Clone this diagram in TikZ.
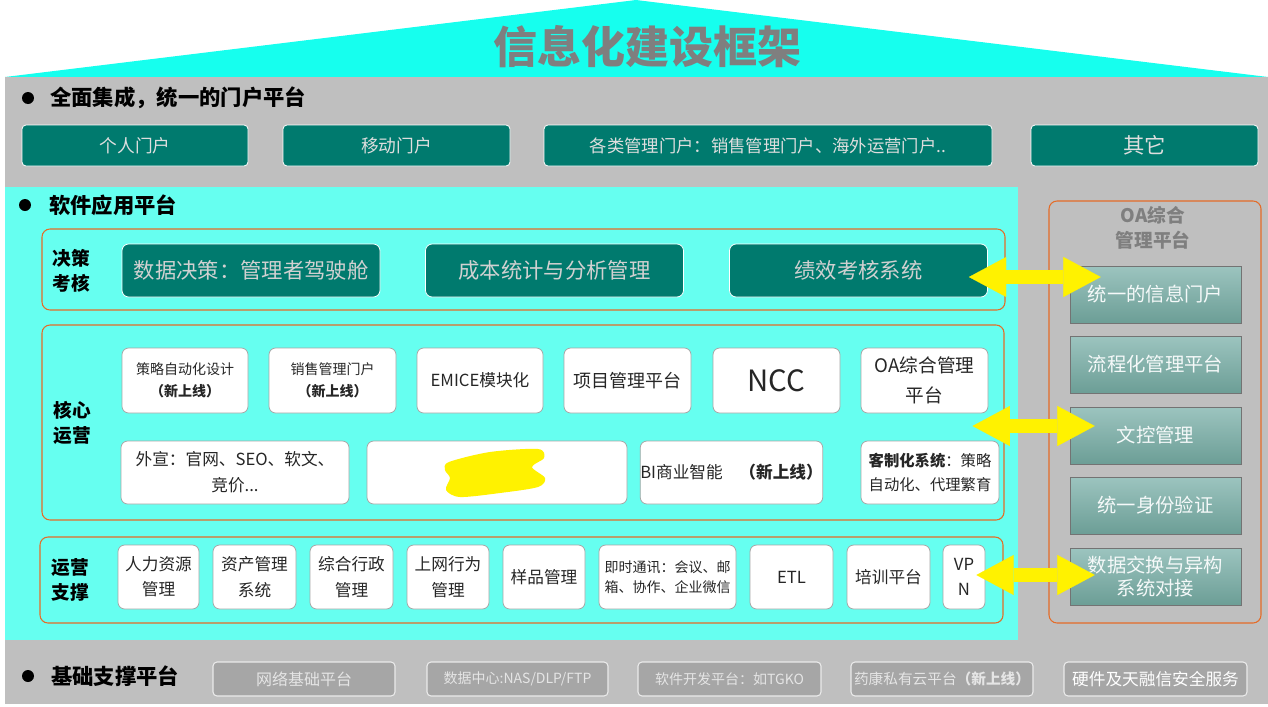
\documentclass[tikz,border=0pt]{standalone}
\usepackage{fontspec}
\setmainfont{Noto Sans CJK SC}
\usetikzlibrary{arrows.meta}
\definecolor{roofcyan}{RGB}{22,255,238}
\definecolor{bggray}{RGB}{191,191,191}
\definecolor{softcyan}{RGB}{102,255,240}
\definecolor{tealbg}{RGB}{0,122,110}
\definecolor{lighttxt}{RGB}{222,222,222}
\definecolor{framered}{RGB}{228,108,40}
\definecolor{oatop}{RGB}{156,196,191}
\definecolor{oabot}{RGB}{108,158,150}
\definecolor{oaline}{RGB}{115,115,115}
\definecolor{basegray}{RGB}{166,166,166}
\definecolor{titlegray}{RGB}{127,127,127}
\tikzset{
	wh/.style 2 args={minimum width=#1*0.75pt, minimum height=#2*0.75pt},
	tealbox/.style={draw=white, fill=tealbg, rounded corners=3pt, text=lighttxt, inner sep=0pt, line width=0.6pt},
	whitebox/.style={draw=black!35, fill=white, rounded corners=5pt, text=black!85, inner sep=0pt, align=center, line width=0.6pt},
	groupframe/.style={draw=framered, rounded corners=6pt, line width=0.8pt, inner sep=0pt},
	oabox/.style={draw=oaline, top color=oatop, bottom color=oabot, text=white!90!oatop, inner sep=0pt, align=center, font=\fontsize{14.5}{17.5}\selectfont},
	basebox/.style={draw=white!92!black, fill=basegray, rounded corners=3pt, text=white!90!black, inner sep=0pt, line width=0.8pt},
	yarrow/.style={draw=yellow, line width=10pt, {Triangle[length=28pt,width=30pt,line width=0.1pt]}-{Triangle[length=28pt,width=30pt,line width=0.1pt]}},
	sectitle/.style={anchor=west, font=\bfseries\fontsize{16}{19}\selectfont, inner sep=0pt},
	grouplabel/.style={font=\bfseries\fontsize{14}{19}\selectfont, align=center, inner sep=0pt}
}
\begin{document}
\begin{tikzpicture}[x=0.75pt,y=-0.75pt]
	\useasboundingbox (0,0) rectangle (1268,707);
	\fill[roofcyan] (5,77) -- (636,0) -- (1268,77) -- cycle;
	\fill[bggray] (5,77) rectangle (1268,704);
	\fill[softcyan] (5,187) rectangle (1018,640);
	\node[font=\bfseries\fontsize{33}{36}\selectfont, text=titlegray] (title) at (647,47) {信息化建设框架};

	\fill (28,98) circle (4.5pt);
	\node[sectitle] (portal) at (50,98) {全面集成，统一的门户平台};
	\fill (25,205) circle (4.5pt);
	\node[sectitle] (software) at (49,205) {软件应用平台};
	\fill (28,676) circle (4.5pt);
	\node[sectitle] (base) at (51,676) {基础支撑平台};

	\node[tealbox, wh={226}{41}, font=\fontsize{13.3}{16}\selectfont] (geren) at (135,145.5) {个人门户};
	\node[tealbox, wh={227}{41}, font=\fontsize{13.3}{16}\selectfont] (yidong) at (396.5,145.5) {移动门户};
	\node[tealbox, wh={448}{41}, font=\fontsize{13}{16}\selectfont] (gelei) at (768,145.5) {各类管理门户：销售管理门户、海外运营门户..};
	\node[tealbox, wh={227}{41}, font=\fontsize{16}{19}\selectfont] (qita) at (1144.5,145.5) {其它};

	\node[groupframe, wh={963}{81}] (juece) at (523.5,269.5) {};
	\node[groupframe, wh={962}{195}] (hexin) at (523,422.5) {};
	\node[groupframe, wh={963}{86}] (yunying) at (521.5,580) {};
	\node[grouplabel] (juecelab) at (71.5,270.5) {决策\\考核};
	\node[grouplabel] (hexinlab) at (72,423) {核心\\运营};
	\node[grouplabel] (yunyinglab) at (70,580) {运营\\支撑};

	\foreach \n/\x/\t in {shuju/251/数据决策：管理者驾驶舱, chengben/554.5/成本统计与分析管理, jixiao/858.5/绩效考核系统}{
		\node[tealbox, wh={258}{53}, rounded corners=5pt, text=black!18, font=\fontsize{16}{19}\selectfont] (\n) at (\x,270.5) {\t};
	}

	\node[whitebox, wh={126}{65}, font=\fontsize{10.5}{16.5}\selectfont] (celue) at (185,380.5) {策略自动化设计\\\textbf{（新上线）}};
	\node[whitebox, wh={127}{65}, font=\fontsize{10.5}{16.5}\selectfont] (xiaoshou) at (332.5,380.5) {销售管理门户\\\textbf{（新上线）}};
	\node[whitebox, wh={126}{65}, font=\fontsize{12.5}{15}\selectfont] (emice) at (480,380.5) {EMICE模块化};
	\node[whitebox, wh={127}{65}, font=\fontsize{13.5}{16}\selectfont] (xiangmu) at (627.5,380.5) {项目管理平台};
	\node[whitebox, wh={127}{65}, font=\fontsize{22}{26}\selectfont] (ncc) at (776.5,380.5) {NCC};
	\node[whitebox, wh={127}{65}, font=\fontsize{14}{22.5}\selectfont] (oa) at (924.5,380.5) {OA综合管理\\平台};

	\node[whitebox, wh={228}{63}, font=\fontsize{12.5}{19.5}\selectfont] (waixuan) at (235,472.5) {外宣：官网、SEO、软文、\\竞价...};
	\node[whitebox, wh={260}{63}] (blank) at (497,472.5) {};
	\fill[yellow] plot[smooth cycle] coordinates {(449,462) (490,452) (538,449) (544,458) (532,467) (545,478) (538,487) (500,493) (460,497) (446,490) (450,478) (445,470)};
	\node[whitebox, wh={181}{63}, font=\fontsize{12.5}{15}\selectfont] (bi) at (731.5,472.5) {BI商业智能\quad\textbf{（新上线）}};
	\node[whitebox, wh={138}{63}, font=\fontsize{11.5}{17.5}\selectfont] (kezhi) at (930,472.5) {\textbf{客制化系统}：策略\\自动化、代理繁育};

	\foreach \n/\x/\w/\t in {renli/158.5/81/{人力资源\\管理}, zichan/254.5/83/{资产管理\\系统}, zonghe/351.5/83/{综合行政\\管理}, shangwang/448/82/{上网行为\\管理}, yangpin/544/82/样品管理, etl/791.5/83/ETL, peixun/888.5/83/培训平台, vpn/964/42/{VP\\N}}{
		\node[whitebox, wh={\w}{64}, font=\fontsize{12.5}{19}\selectfont] (\n) at (\x,577) {\t};
	}
	\node[whitebox, wh={137}{64}, font=\fontsize{10.5}{15}\selectfont] (jishi) at (667.5,577) {即时通讯：会议、邮\\箱、协作、企业微信};

	\node[groupframe, wh={212}{422}] (oapanel) at (1155,412) {};
	\node[grouplabel, text=titlegray] (oatitle) at (1153,228) {OA综合\\管理平台};
	\foreach \n/\y/\t in {xinxi/294.5/统一的信息门户, liucheng/364.5/流程化管理平台, wenkong/435.5/文控管理, shenfen/505.5/统一身份验证, jiaohuan/576.5/{数据交换与异构\\系统对接}}{
		\node[oabox, wh={171}{57}] (\n) at (1155.5,\y) {\t};
	}

	\draw[yarrow] ([shift={(-19,6.5)}]jixiao.east) -- ([shift={(31,-17.5)}]xinxi.west);
	\draw[yarrow] ([shift={(-32,3.5)}]hexin.east) -- ([shift={(25,-9.5)}]wenkong.west);
	\draw[yarrow] ([shift={(-9,-2)}]vpn.east) -- ([shift={(25,-1.5)}]jiaohuan.west);

	\node[basebox, wh={182}{34}, font=\fontsize{12}{14}\selectfont] (wangluo) at (304,679) {网络基础平台};
	\node[basebox, wh={181}{34}, font=\fontsize{10.5}{13}\selectfont] (shujuzx) at (517.5,679) {数据中心:NAS/DLP/FTP};
	\node[basebox, wh={183}{34}, font=\fontsize{10.5}{13}\selectfont] (ruanjian) at (729.5,679) {软件开发平台：如TGKO};
	\node[basebox, wh={182}{34}, font=\fontsize{11}{13}\selectfont] (yaokang) at (942,679) {药康私有云平台\textbf{（新上线）}};
	\node[basebox, wh={183}{34}, text=white, font=\fontsize{12.5}{15}\selectfont] (yingjian) at (1155.5,679) {硬件及天融信安全服务};
\end{tikzpicture}
\end{document}
